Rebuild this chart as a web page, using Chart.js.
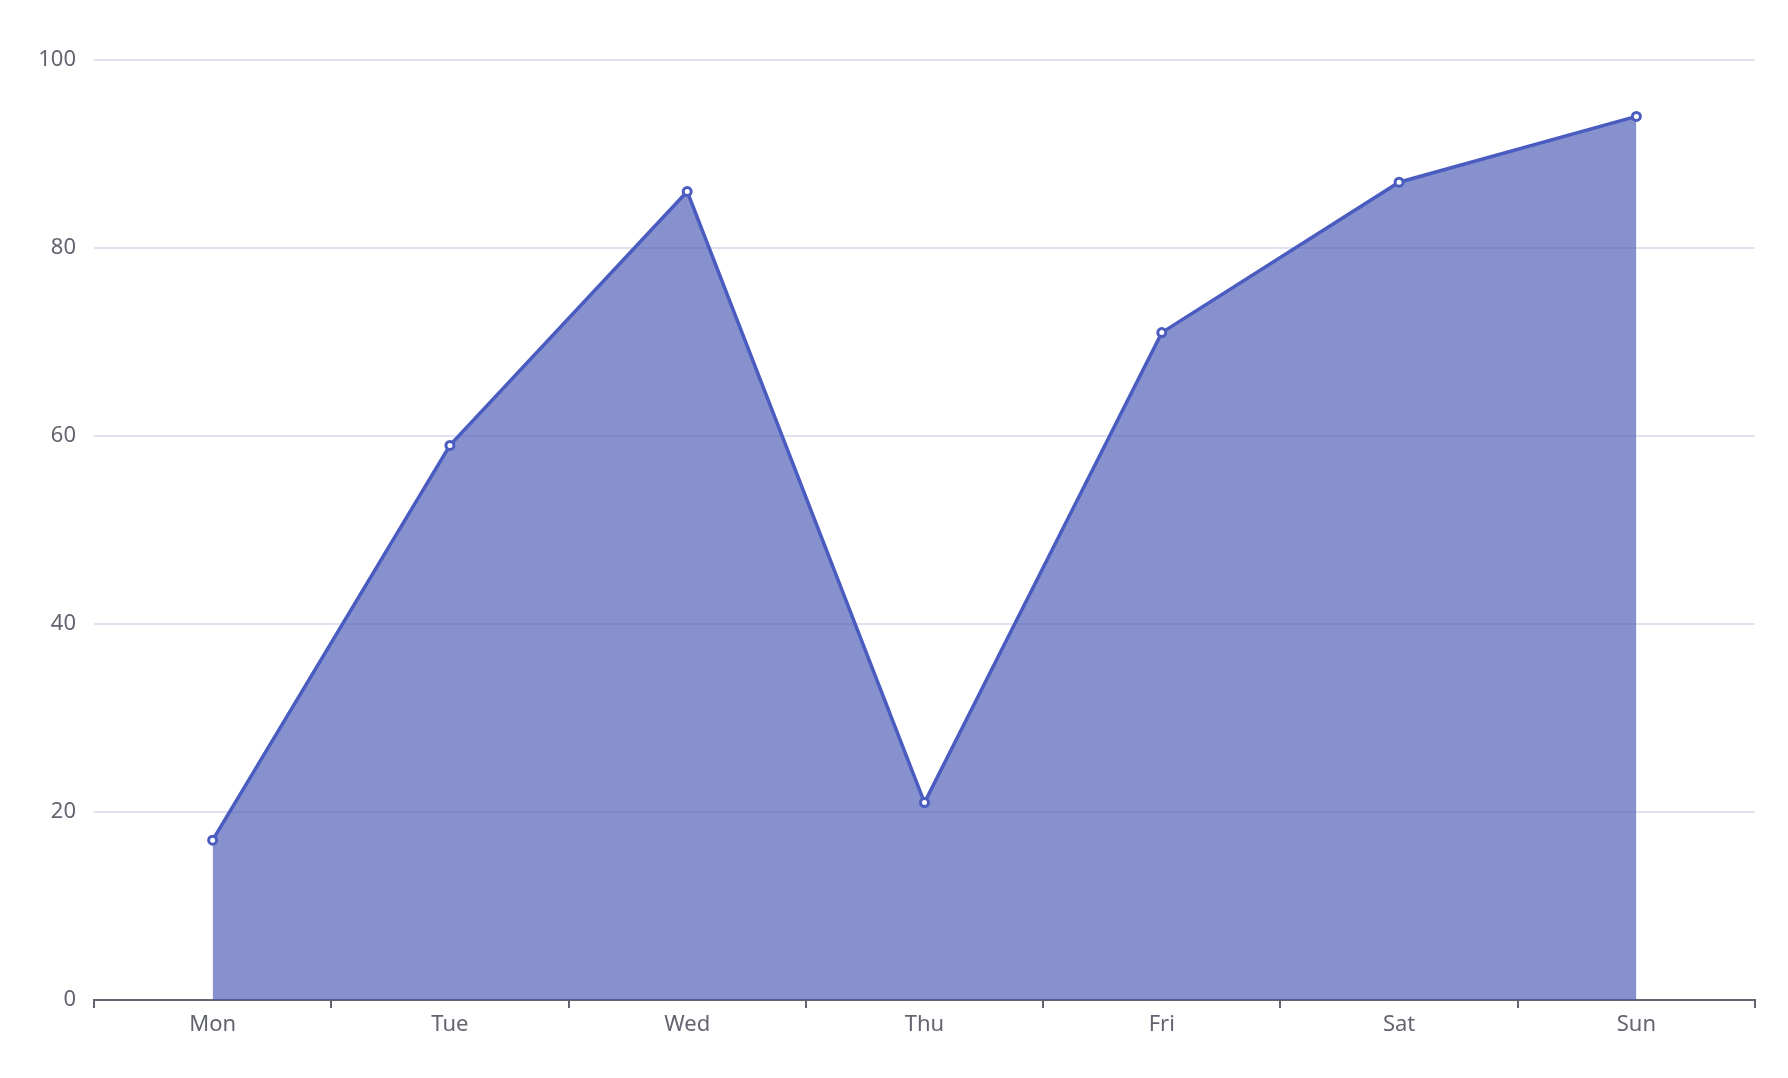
<!DOCTYPE html>
<html>
<head>
<meta charset="utf-8">
<script src="https://cdn.jsdelivr.net/npm/chart.js@4"></script>
<style>
  html, body { margin: 0; padding: 0; background: #fff; }
  #wrap { width: 1788px; height: 1078px; }
</style>
</head>
<body>
<div id="wrap"><canvas id="myChart" width="1788" height="1078"></canvas></div>
<script>
const days = ['Mon', 'Tue', 'Wed', 'Thu', 'Fri', 'Sat', 'Sun'];
const values = [17, 59, 86, 21, 71, 87, 94];
const yTicks = [0, 20, 40, 60, 80, 100];

const ctx = document.getElementById('myChart').getContext('2d');
new Chart(ctx, {
    type: 'line',
    data: {
        labels: days,
        datasets: [{
            data: values,
            borderColor: '#4b5cc0',
            borderWidth: 3.5,
            backgroundColor: 'rgba(72, 88, 180, 0.66)',
            fill: 'origin',
            tension: 0,
            pointRadius: 4,
            pointBorderWidth: 3,
            pointBackgroundColor: '#ffffff',
            pointBorderColor: '#4b5cc0'
        }]
    },
    options: {
        responsive: false,
        animation: false,
        layout: { padding: { top: 60, right: 33, bottom: 0, left: 0 } },
        plugins: { legend: { display: false }, tooltip: { enabled: false } },
        scales: {
            x: {
                offset: true,
                grid: { offset: true, drawOnChartArea: false, drawTicks: true, tickLength: 8, color: '#62646f', lineWidth: 2 },
                border: { color: '#62646f', width: 2 },
                ticks: { color: '#62646f', font: { family: 'Noto Sans', size: 22 }, padding: 4 },
                afterFit: function (s) { s.height = 78; }
            },
            y: {
                min: 0,
                max: 100,
                afterBuildTicks: function (s) { s.ticks = yTicks.map(v => ({ value: v })); },
                grid: { color: '#e0e3ef', lineWidth: 2, drawTicks: false },
                border: { display: false },
                ticks: { color: '#62646f', font: { family: 'Noto Sans', size: 22 }, padding: 18 },
                afterFit: function (s) { s.width = 94; }
            }
        }
    }
});
</script>
</body>
</html>
